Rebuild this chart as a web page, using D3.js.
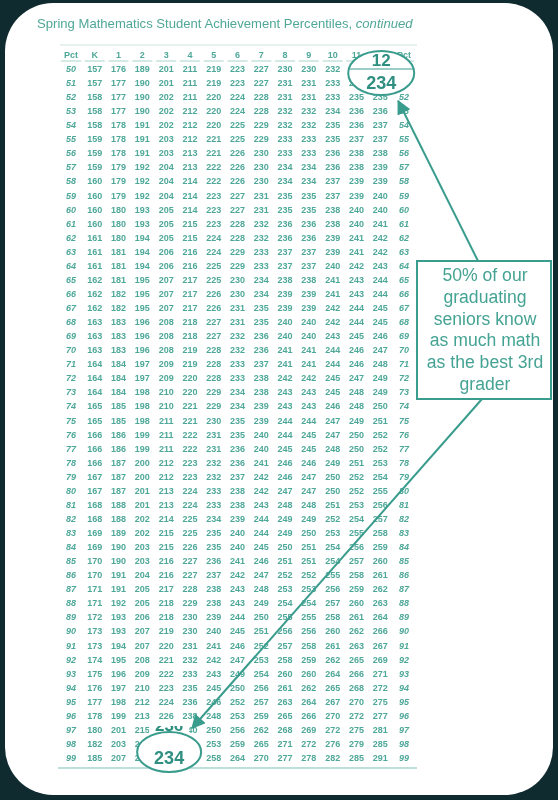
<!DOCTYPE html>
<html>
<head>
<meta charset="utf-8">
<script src="https://cdn.jsdelivr.net/npm/d3@7"></script>
<style>
html,body{margin:0;padding:0;background:#0f2b2f;}
svg{display:block;}
</style>
</head>
<body>
<svg id="chart" width="558" height="800"></svg>
<script>
// ---------- data ----------
const title = "Spring Mathematics Student Achievement Percentiles, ";
const titleItalic = "continued";
const grades = ["K","1","2","3","4","5","6","7","8","9","10","11","12"];
const pctLabels = [50,51,52,53,54,55,56,57,58,59,60,61,62,63,64,65,66,67,68,69,70,71,72,73,74,75,76,77,78,79,80,81,82,83,84,85,86,87,88,89,90,91,92,93,94,95,96,97,98,99];

const gradeK = [157,157,158,158,158,159,159,159,160,160,160,160,161,161,161,162,162,162,163,163,163,164,164,164,165,165,166,166,166,167,167,168,168,169,169,170,170,171,171,172,173,173,174,175,176,177,178,180,182,185];
const grade1 = [176,177,177,177,178,178,178,179,179,179,180,180,180,181,181,181,182,182,183,183,183,184,184,184,185,185,186,186,187,187,187,188,188,189,190,190,191,191,192,193,193,194,195,196,197,198,199,201,203,207];
const grade2 = [189,190,190,190,191,191,191,192,192,192,193,193,194,194,194,195,195,195,196,196,196,197,197,198,198,198,199,199,200,200,201,201,202,202,203,203,204,205,205,206,207,207,208,209,210,212,213,215,217,220];
const grade3 = [201,201,202,202,202,203,203,204,204,204,205,205,205,206,206,207,207,207,208,208,208,209,209,210,210,211,211,211,212,212,213,213,214,215,215,216,216,217,218,218,219,220,221,222,223,224,226,228,231,234];
const grade4 = [211,211,211,212,212,212,213,213,214,214,214,215,215,216,216,217,217,217,218,218,219,219,220,220,221,221,222,222,223,223,224,224,225,225,226,227,227,228,229,230,230,231,232,233,235,236,238,240,243,247];
const grade5 = [219,219,220,220,220,221,221,222,222,223,223,223,224,224,225,225,226,226,227,227,228,228,228,229,229,230,231,231,232,232,233,233,234,235,235,236,237,238,238,239,240,241,242,243,245,246,248,250,253,258];
const grade6 = [223,223,224,224,225,225,226,226,226,227,227,228,228,229,229,230,230,231,231,232,232,233,233,234,234,235,235,236,236,237,238,238,239,240,240,241,242,243,243,244,245,246,247,249,250,252,253,256,259,264];
const grade7 = [227,227,228,228,229,229,230,230,230,231,231,232,232,233,233,234,234,235,235,236,236,237,238,238,239,239,240,240,241,242,242,243,244,244,245,246,247,248,249,250,251,252,253,254,256,257,259,262,265,270];
const grade8 = [230,231,231,232,232,233,233,234,234,235,235,236,236,237,237,238,239,239,240,240,241,241,242,243,243,244,244,245,246,246,247,248,249,249,250,251,252,253,254,255,256,257,258,260,261,263,265,268,271,277];
const grade9 = [230,231,231,232,232,233,233,234,234,235,235,236,236,237,237,238,239,239,240,240,241,241,242,243,243,244,245,245,246,247,247,248,249,250,251,251,252,253,254,255,256,258,259,260,262,264,266,269,272,278];
const grade10 = [232,233,233,234,235,235,236,236,237,237,238,238,239,239,240,241,241,242,242,243,244,244,245,245,246,247,247,248,249,250,250,251,252,253,254,254,255,256,257,258,260,261,262,264,265,267,270,272,276,282];
const grade11 = [233,234,235,236,236,237,238,238,239,239,240,240,241,241,242,243,243,244,244,245,246,246,247,248,248,249,250,250,251,252,252,253,254,255,256,257,258,259,260,261,262,263,265,266,268,270,272,275,279,285];
const grade12 = [234,235,235,236,237,237,238,239,239,240,240,241,242,242,243,244,244,245,245,246,247,248,249,249,250,251,252,252,253,254,255,256,257,258,259,260,261,262,263,264,266,267,269,271,272,275,277,281,285,291];

const calloutLines = ["50% of our","graduating","seniors know","as much math","as the best 3rd","grader"];
// highlighted cells: [grade, pct]
const highlightTop = {grade:"12", pct:50};
const highlightBottom = {grade:"3", pct:99};

// ---------- build table ----------
const seriesByGrade = {K:gradeK,"1":grade1,"2":grade2,"3":grade3,"4":grade4,"5":grade5,"6":grade6,"7":grade7,"8":grade8,"9":grade9,"10":grade10,"11":grade11,"12":grade12};
const cells = [];
grades.forEach(g => seriesByGrade[g].forEach((v,i) => cells.push({grade:g, pct:pctLabels[i], value:v})));
const valueOf = (g,p) => seriesByGrade[g][pctLabels.indexOf(p)];

// ---------- drawing ----------
const teal = "#3a9c8d";
const textTeal = "#4ea899";
const svg = d3.select("#chart");

// card
svg.append("rect").attr("x",5).attr("y",3).attr("width",548).attr("height",792)
  .attr("rx",48).attr("ry",48).attr("fill","#ffffff");

const content = svg.append("g").style("filter","blur(0.3px)");

// title
const t = content.append("text").attr("x",37).attr("y",28)
  .attr("font-family","Liberation Sans, Arial, sans-serif").attr("font-size",13.1)
  .attr("fill","#4fa797");
t.append("tspan").text(title);
t.append("tspan").attr("font-style","italic").text(titleItalic);

const columns = ["PctL"].concat(grades).concat(["PctR"]);
const x = d3.scalePoint().domain(columns).range([71, 404]);
const y = d3.scalePoint().domain(pctLabels).range([69, 758]);
const headerY = 55;

const g = content.append("g").attr("font-family","Liberation Sans, Arial, sans-serif");

// rules
g.append("line").attr("x1",60).attr("x2",417).attr("y1",45).attr("y2",45)
  .attr("stroke","#cfe6e1").attr("stroke-width",1.2);
g.append("line").attr("x1",58).attr("x2",417).attr("y1",768).attr("y2",768)
  .attr("stroke","#a9d4cc").attr("stroke-width",1.5);

// header
const headerLabels = columns.map(c => ({col:c, label: c==="PctL"||c==="PctR" ? "Pct" : c}));
g.selectAll("text.hdr").data(headerLabels).join("text").attr("class","hdr")
  .attr("x",d=>x(d.col)).attr("y",headerY).attr("text-anchor","middle")
  .attr("dominant-baseline","central").attr("font-size",9).attr("font-weight","bold")
  .attr("fill",textTeal).text(d=>d.label);
g.selectAll("line.hdrline").data(headerLabels).join("line").attr("class","hdrline")
  .attr("x1",d=>x(d.col)-10).attr("x2",d=>x(d.col)+10)
  .attr("y1",headerY+6).attr("y2",headerY+6)
  .attr("stroke","#9fcfc6").attr("stroke-width",0.9);

// pct columns
["PctL","PctR"].forEach(c => {
  g.selectAll("text.p"+c).data(pctLabels).join("text").attr("class","p"+c)
    .attr("x",x(c)).attr("y",d=>y(d)).attr("text-anchor","middle")
    .attr("dominant-baseline","central").attr("font-size",9).attr("font-weight","bold")
    .attr("font-style","italic").attr("fill",textTeal).text(d=>d);
});

// values
g.selectAll("text.val").data(cells).join("text").attr("class","val")
  .attr("x",d=>x(d.grade)).attr("y",d=>y(d.pct)).attr("text-anchor","middle")
  .attr("dominant-baseline","central").attr("font-size",9).attr("font-weight","bold")
  .attr("fill",textTeal).text(d=>d.value);

// ---------- magnified circles ----------
const mag = content.append("g").attr("font-family","Liberation Sans, Arial, sans-serif");

// top circle: grade 12 header + 50th percentile value
const tcx = x(highlightTop.grade)+1, tcy = 73;
mag.append("ellipse").attr("cx",tcx).attr("cy",tcy).attr("rx",33).attr("ry",22)
  .attr("fill","#fff").attr("stroke",teal).attr("stroke-width",2);
mag.append("line").attr("x1",tcx-33).attr("x2",tcx+33).attr("y1",tcy-4).attr("y2",tcy-4)
  .attr("stroke",teal).attr("stroke-width",1.2);
mag.append("text").attr("x",tcx).attr("y",tcy-13).attr("text-anchor","middle")
  .attr("dominant-baseline","central").attr("font-size",17).attr("font-weight","bold")
  .attr("fill","#2f8f80").text(highlightTop.grade);
mag.append("text").attr("x",tcx).attr("y",tcy+10).attr("text-anchor","middle")
  .attr("dominant-baseline","central").attr("font-size",18).attr("font-weight","bold")
  .attr("fill","#2f8f80").text(valueOf(highlightTop.grade, highlightTop.pct));

// bottom circle: grade 3, 99th percentile
const bcx = x(highlightBottom.grade)+3, bcy = y(highlightBottom.pct)-6;
mag.append("rect").attr("x",bcx-20).attr("y",bcy-27).attr("width",40).attr("height",10).attr("fill","#fff");
content.append("clipPath").attr("id","fragclip").append("rect")
  .attr("x",bcx-22).attr("y",bcy-26).attr("width",44).attr("height",8);
mag.append("text").attr("clip-path","url(#fragclip)").attr("x",bcx).attr("y",bcy-27)
  .attr("text-anchor","middle").attr("dominant-baseline","central").attr("font-size",17)
  .attr("font-weight","bold").attr("fill","#2f8f80")
  .text(valueOf(highlightBottom.grade, 97)+8);
mag.append("ellipse").attr("cx",bcx).attr("cy",bcy).attr("rx",32).attr("ry",20)
  .attr("fill","#fff").attr("stroke",teal).attr("stroke-width",2);
mag.append("text").attr("x",bcx).attr("y",bcy+6).attr("text-anchor","middle")
  .attr("dominant-baseline","central").attr("font-size",18).attr("font-weight","bold")
  .attr("fill","#2f8f80").text(valueOf(highlightBottom.grade, highlightBottom.pct));

// ---------- callout ----------
const defs = svg.append("defs");
defs.append("marker").attr("id","arr").attr("viewBox","0 0 10 10").attr("refX",9).attr("refY",5)
  .attr("markerWidth",8).attr("markerHeight",7).attr("markerUnits","strokeWidth").attr("orient","auto")
  .append("path").attr("d","M0,0 L10,5 L0,10 z").attr("fill",teal);

const box = {x:417, y:261, w:134, h:138};
content.append("line").attr("x1",box.x+61).attr("y1",box.y).attr("x2",tcx+17).attr("y2",tcy+28)
  .attr("stroke",teal).attr("stroke-width",2).attr("marker-end","url(#arr)");
content.append("line").attr("x1",box.x+65).attr("y1",box.y+box.h).attr("x2",bcx+23).attr("y2",bcy-24)
  .attr("stroke",teal).attr("stroke-width",2).attr("marker-end","url(#arr)");

content.append("rect").attr("x",box.x).attr("y",box.y).attr("width",box.w).attr("height",box.h)
  .attr("fill","#fff").attr("stroke",teal).attr("stroke-width",2);
content.append("g").selectAll("text").data(calloutLines).join("text")
  .attr("x",box.x+box.w/2+1).attr("y",(d,i)=>275+i*21.8).attr("text-anchor","middle")
  .attr("dominant-baseline","central").attr("font-family","Liberation Sans, Arial, sans-serif")
  .attr("font-size",17.6).attr("fill","#45a394").text(d=>d);
</script>
</body>
</html>
